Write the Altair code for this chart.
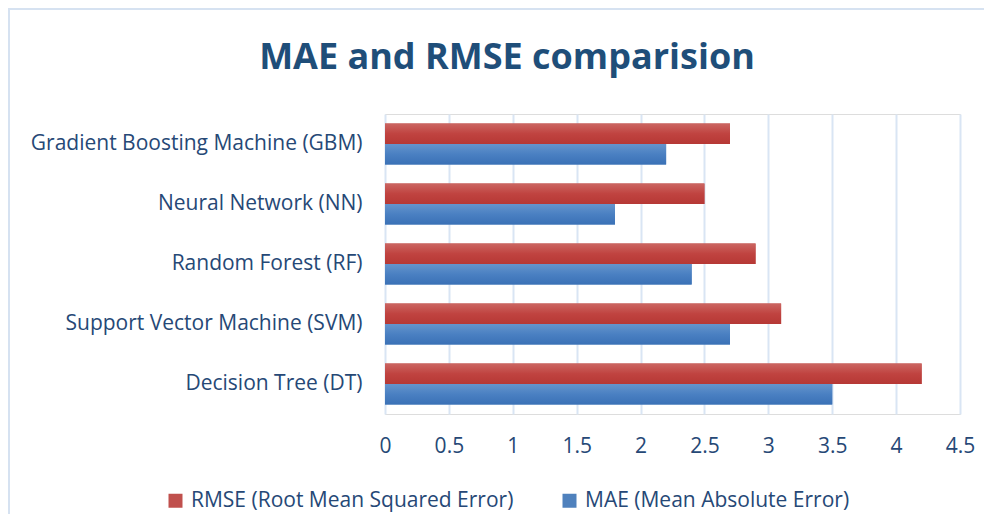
import altair as alt
import pandas as pd

models = [
    "Gradient Boosting Machine (GBM)",
    "Neural Network (NN)",
    "Random Forest (RF)",
    "Support Vector Machine (SVM)",
    "Decision Tree (DT)",
]
rmse = [2.7, 2.5, 2.9, 3.1, 4.2]
mae = [2.2, 1.8, 2.4, 2.7, 3.5]
series_names = ["RMSE (Root Mean Squared Error)", "MAE (Mean Absolute Error)"]
x_ticks = [0, 0.5, 1, 1.5, 2, 2.5, 3, 3.5, 4, 4.5]
title_text = ["MAE and RMSE comparision"]

rows = []
for m, r, a in zip(models, rmse, mae):
    rows.append({"model": m, "series": series_names[0], "value": r})
    rows.append({"model": m, "series": series_names[1], "value": a})
df = pd.DataFrame(rows)

FONT = "Open Sans"
TXT = "#264876"

red_grad = alt.Gradient(
    gradient="linear", x1=0, x2=0, y1=0, y2=1,
    stops=[alt.GradientStop(offset=0, color="#cb6662"),
           alt.GradientStop(offset=0.5, color="#c04340"),
           alt.GradientStop(offset=1, color="#b63835")],
)
blue_grad = alt.Gradient(
    gradient="linear", x1=0, x2=0, y1=0, y2=1,
    stops=[alt.GradientStop(offset=0, color="#6594cc"),
           alt.GradientStop(offset=0.5, color="#4a80c2"),
           alt.GradientStop(offset=1, color="#3a71b6")],
)

y_enc = alt.Y(
    "model:N", sort=models, title=None,
    scale=alt.Scale(paddingInner=0.317, paddingOuter=0.158),
    axis=alt.Axis(labelFont=FONT, labelFontSize=21, labelColor=TXT,
                  labelPadding=23, ticks=False, domain=False, grid=False,
                  labelLimit=400),
)
x_enc = alt.X(
    "value:Q", title=None,
    scale=alt.Scale(domain=[0, 4.5], nice=False),
    axis=alt.Axis(values=x_ticks, format="~g", labelFont=FONT, labelFontSize=21,
                  labelColor=TXT, labelPadding=21, ticks=False, domain=False,
                  grid=True, gridColor="#d9e5f4", gridWidth=2,
                  labelFlush=False),
)
yoff = alt.YOffset("series:N", sort=series_names,
                   scale=alt.Scale(domain=series_names, paddingInner=0, paddingOuter=0))

border = alt.Chart(pd.DataFrame({"a": [0]})).mark_rect(
    fill="transparent", stroke="#d6e2f1", strokeWidth=2
).encode(x=alt.value(-376), x2=alt.value(640), y=alt.value(-105), y2=alt.value(460))

title = alt.Chart(pd.DataFrame({"t": title_text})).mark_text(
    font=FONT, fontSize=36, fontWeight="bold", color="#1f4e79",
    align="center", baseline="alphabetic",
).encode(text="t:N", x=alt.value(122), y=alt.value(-45))

base = alt.Chart(df).mark_bar().encode(
    y=y_enc, x=x_enc, yOffset=yoff,
    color=alt.Color(
        "series:N", sort=series_names,
        scale=alt.Scale(domain=series_names, range=["#c0504d", "#4f81bd"]),
        legend=alt.Legend(
            title=None, orient="none", direction="horizontal",
            legendX=-220, legendY=376, symbolType="square", symbolSize=196,
            symbolStrokeWidth=0, labelFont=FONT, labelFontSize=21,
            labelColor=TXT, labelLimit=500, columnPadding=45, labelOffset=5,
            padding=0,
        ),
    ),
)

overlay = alt.Chart(df).mark_bar().encode(
    y=y_enc, x=x_enc, yOffset=yoff,
    color=alt.condition(alt.datum.series == series_names[0],
                        alt.value(red_grad), alt.value(blue_grad)),
)

chart = alt.layer(border, title, base, overlay).properties(
    width=575, height=300,
    autosize=alt.AutoSizeParams(type="none"),
    padding={"left": 377, "top": 106, "right": 24, "bottom": 100},
).configure_view(stroke=None).configure(background="white")

chart.save("out.html", embed_options={"renderer": "svg", "actions": False})
